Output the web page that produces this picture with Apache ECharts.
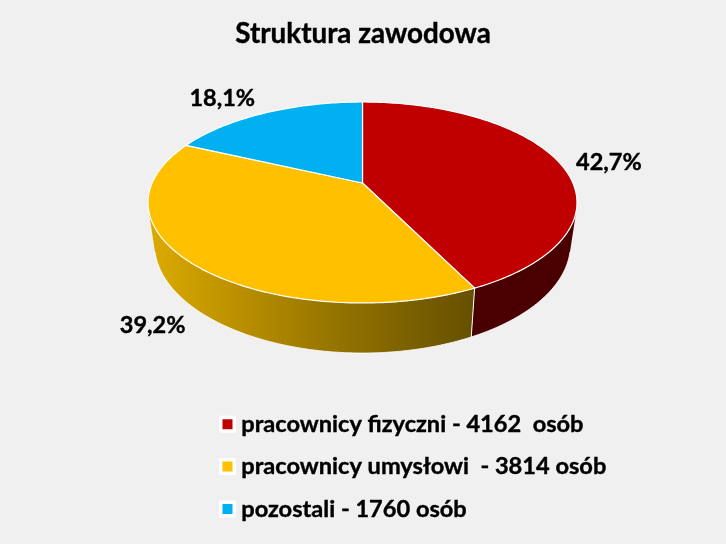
<!DOCTYPE html>
<html>
<head>
<meta charset="utf-8">
<style>html,body{margin:0;padding:0;background:#f0f0f0}#c{width:726px;height:544px}</style>
<script src="https://cdn.jsdelivr.net/npm/echarts@6/dist/echarts.min.js"></script>
</head>
<body>
<div id="c"></div>
<script>
const chartTitle = 'Struktura zawodowa';
const categories = ['pracownicy fizyczni - 4162  osób', 'pracownicy umysłowi  - 3814 osób', 'pozostali - 1760 osób'];
const values = [4162, 3814, 1760];
const percentLabels = ['42,7%', '39,2%', '18,1%'];
const colors = ['#C00000', '#FFC000', '#00B0F0'];
const wallStops = [
  [[0, '#4A0000'], [1, '#4A0000']],
  [[0, '#DCAA00'], [0.65, '#8C6D00'], [1, '#665000']],
  [[0, '#007AA8'], [1, '#004A66']]
];
const labelOffsets = [[50, 0], [-39, 62], [-43, -15]];

// Perspective projection of the pie disc
const CX = 362.5, CY = 183, R = 210.4, A = 96.7, P = 0.194;
const WALL_SCALE = 0.97, WALL_CY = 222.9, WALL_A = 104.9;
const WALL_FROM = 105.3, WALL_TO = 254.7; // silhouette angles of the visible wall
const FONT = 'Lato, Carlito, "Open Sans", sans-serif';
const total = values.reduce((a, b) => a + b, 0);

function project(deg, rx, ry, cy) {
  const t = deg * Math.PI / 180, x = Math.sin(t), z = -Math.cos(t), d = 1 - P * z;
  return [CX + rx * x / d, cy + ry * z / d];
}
function arc(a0, a1, rx, ry, cy) {
  const n = Math.max(2, Math.ceil(Math.abs(a1 - a0))), pts = [];
  for (let i = 0; i <= n; i++) pts.push(project(a0 + (a1 - a0) * i / n, rx, ry, cy));
  return pts;
}
function makeRender(idx) {
  return function (params, api) {
    const before = values.slice(0, idx).reduce((a, b) => a + b, 0);
    const a0 = before / total * 360, a1 = a0 + api.value(0) / total * 360;
    const children = [];
    const w0 = Math.max(a0, WALL_FROM), w1 = Math.min(a1, WALL_TO);
    if (w1 > w0) {
      const grad = new echarts.graphic.LinearGradient(148, 0, 473, 0,
        wallStops[idx].map(s => ({offset: s[0], color: s[1]})), true);
      const wallTop = arc(w0, w1, R, A, CY), wallBot = arc(w0, w1, R * WALL_SCALE, WALL_A, WALL_CY);
      children.push({type: 'polygon', z2: 1, silent: true,
        shape: {points: wallTop.concat(wallBot.slice().reverse())},
        style: {fill: grad}});
      children.push({type: 'polyline', z2: 2, silent: true, shape: {points: wallBot},
        style: {fill: null, stroke: '#ffffff', lineWidth: 1, opacity: 0.8}});
      if (a1 <= WALL_TO) {
        const p = wallTop[wallTop.length - 1], q = wallBot[wallBot.length - 1];
        children.push({type: 'line', z2: 3, silent: true,
          shape: {x1: p[0], y1: p[1], x2: q[0], y2: q[1]},
          style: {stroke: '#ffffff', lineWidth: 1}});
      }
    }
    // top face
    children.push({type: 'polygon', z2: 10, silent: true,
      shape: {points: [[CX, CY]].concat(arc(a0, a1, R, A, CY))},
      style: {fill: colors[idx], stroke: '#ffffff', lineWidth: 1.2, lineJoin: 'round'}});
    // percentage label
    const rim = project((a0 + a1) / 2, R, A, CY);
    children.push({type: 'text', z2: 20, silent: true,
      style: {x: rim[0] + labelOffsets[idx][0], y: rim[1] + labelOffsets[idx][1], text: percentLabels[idx],
        font: 'bold 23.5px ' + FONT, fill: '#000', stroke: '#000', lineWidth: 0.4, align: 'center', verticalAlign: 'middle'}});
    return {type: 'group', children};
  };
}
const chart = echarts.init(document.getElementById('c'), null, {renderer: 'canvas'});
chart.setOption({
  animation: false,
  backgroundColor: '#F0F0F0',
  title: {text: chartTitle, left: 'center', top: 15,
    textStyle: {fontFamily: FONT, fontWeight: 'bold', fontSize: 27.8, color: '#000', textBorderColor: '#000', textBorderWidth: 0.4}},
  legend: {
    orient: 'vertical', left: 214, top: 407, icon: 'rect',
    itemWidth: 13.5, itemHeight: 13.5, itemGap: 18, selectedMode: false,
    itemStyle: {borderColor: '#fff', borderWidth: 3.5},
    textStyle: {fontFamily: FONT, fontWeight: 'bold', fontSize: 23.6, color: '#000', padding: [0, 0, 0, 2], textBorderColor: '#000', textBorderWidth: 0.4},
    data: categories
  },
  series: categories.map((name, i) => ({
    type: 'custom', name, coordinateSystem: 'none',
    itemStyle: {color: colors[i]},
    data: [[values[i]]],
    renderItem: makeRender(i)
  }))
});
</script>
</body>
</html>
